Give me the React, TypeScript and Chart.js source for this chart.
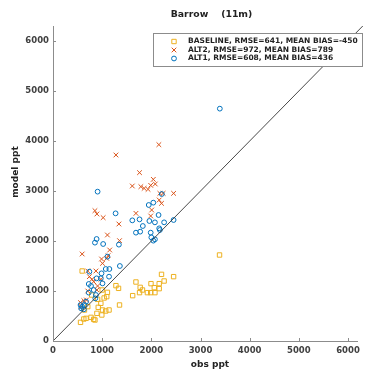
import React, { useEffect, useRef } from "react";
import { Chart, registerables } from "chart.js";

Chart.register(...registerables);

const titleText = "Barrow    (11m)";
const xLabel = "obs ppt";
const yLabel = "model ppt";
const tickValues = [0, 1000, 2000, 3000, 4000, 5000, 6000];
const legendLabels = [
  "BASELINE, RMSE=641, MEAN BIAS=-450",
  "ALT2, RMSE=972, MEAN BIAS=789",
  "ALT1, RMSE=608, MEAN BIAS=436",
];

const baselineObs = [3387, 2453, 2207, 2260, 2160, 1993, 2060, 1987, 2160, 2073, 1920, 1820, 1773, 1760, 1620, 1687, 1353, 1280, 1333, 1140, 1073, 993, 893, 920, 973, 1040, 1093, 1107, 1000, 827, 773, 853, 673, 627, 560, 593, 1007, 707, 640, 907, 787];
const baselineModel = [1720, 1287, 1333, 1200, 1147, 1147, 1067, 967, 1047, 967, 967, 1020, 1073, 967, 907, 1180, 720, 1107, 1053, 620, 600, 520, 553, 673, 753, 860, 887, 973, 1020, 433, 473, 420, 453, 440, 373, 1400, 620, 687, 620, 833, 920];

const alt2Obs = [2153, 1280, 1760, 2040, 2080, 1613, 1787, 1853, 1933, 1987, 2173, 2240, 2453, 2160, 2207, 2007, 1987, 1687, 853, 893, 1020, 1340, 1107, 1353, 1153, 593, 987, 1093, 1120, 1007, 873, 793, 827, 907, 973, 740, 707, 893, 560, 627, 680, 573, 707];
const alt2Model = [3927, 3720, 3367, 3233, 3140, 3100, 3087, 3053, 3033, 3113, 2953, 2953, 2953, 2820, 2753, 2620, 2500, 2553, 2607, 2540, 2467, 2340, 2120, 2007, 1820, 1740, 1640, 1653, 1707, 1553, 1400, 1233, 1187, 1100, 1233, 1287, 1400, 1020, 767, 807, 820, 687, 1000];

const alt1Obs = [3393, 907, 1273, 1613, 1760, 1947, 2040, 2147, 1960, 2073, 2260, 2453, 1827, 1687, 1773, 1987, 2000, 2160, 2173, 2073, 2040, 2213, 887, 853, 1020, 1340, 1107, 1073, 1147, 1360, 1140, 987, 740, 727, 773, 1007, 973, 887, 827, 727, 873, 860, 593, 640, 673, 573, 627, 560];
const alt1Model = [4647, 2987, 2553, 2413, 2433, 2720, 2767, 2520, 2400, 2373, 2373, 2420, 2300, 2167, 2187, 2167, 2073, 2253, 2220, 2033, 2007, 2940, 2040, 1967, 1940, 1927, 1687, 1440, 1440, 1500, 1287, 1353, 1387, 1140, 1100, 1153, 1253, 1253, 1020, 967, 920, 853, 687, 720, 787, 653, 633, 720];

const diagX = [0, 6300];
const diagY = [0, 6300];

const C_BASE = "#EDB120";
const C_ALT2 = "#D95319";
const C_ALT1 = "#0072BD";

const pts = (xs: number[], ys: number[]) => xs.map((x, i) => ({ x, y: ys[i] }));

const FONT = "'DejaVu Sans', sans-serif";

const overlay = {
  id: "overlay",
  afterDraw(chart: any) {
    const ctx = chart.ctx as CanvasRenderingContext2D;
    const xs = chart.scales.x;
    const ys = chart.scales.y;
    const area = chart.chartArea;
    ctx.save();
    // inward ticks
    ctx.strokeStyle = "#8c8c8c";
    ctx.lineWidth = 1;
    tickValues.forEach((v) => {
      const px = Math.round(xs.getPixelForValue(v)) + 0.5;
      ctx.beginPath();
      ctx.moveTo(px, area.bottom);
      ctx.lineTo(px, area.bottom - 3);
      ctx.stroke();
      const py = Math.round(ys.getPixelForValue(v)) + 0.5;
      ctx.beginPath();
      ctx.moveTo(area.left, py);
      ctx.lineTo(area.left + 3, py);
      ctx.stroke();
    });
    // title
    ctx.fillStyle = "#222";
    ctx.font = `bold 9.3px ${FONT}`;
    ctx.textAlign = "center";
    ctx.textBaseline = "middle";
    ctx.fillText(titleText, 211.5, 15);
    // axis labels
    ctx.font = `bold 9px ${FONT}`;
    ctx.fillText(xLabel, 210, 365);
    ctx.save();
    ctx.translate(16, 172);
    ctx.rotate(-Math.PI / 2);
    ctx.fillText(yLabel, 0, 0);
    ctx.restore();
    // legend
    const lx = 153.5, ly = 33.5, lw = 209, lh = 33;
    ctx.fillStyle = "#fff";
    ctx.fillRect(lx, ly, lw, lh);
    ctx.strokeStyle = "#8c8c8c";
    ctx.lineWidth = 1;
    ctx.strokeRect(lx, ly, lw, lh);
    const rows = [41.5, 50, 58.5];
    const colors = [C_BASE, C_ALT2, C_ALT1];
    ctx.font = `bold 7.5px ${FONT}`;
    ctx.textAlign = "left";
    rows.forEach((ry, i) => {
      const mx = 174;
      ctx.strokeStyle = colors[i];
      ctx.lineWidth = 1;
      ctx.beginPath();
      if (i === 0) {
        ctx.rect(mx - 2.2, ry - 2.2, 4.4, 4.4);
      } else if (i === 1) {
        ctx.moveTo(mx - 2.3, ry - 2.3);
        ctx.lineTo(mx + 2.3, ry + 2.3);
        ctx.moveTo(mx + 2.3, ry - 2.3);
        ctx.lineTo(mx - 2.3, ry + 2.3);
      } else {
        ctx.arc(mx, ry, 2.4, 0, Math.PI * 2);
      }
      ctx.stroke();
      ctx.fillStyle = "#222";
      ctx.fillText(legendLabels[i], 188, ry);
    });
    ctx.restore();
  },
};

export default function App() {
  const ref = useRef<HTMLCanvasElement | null>(null);
  useEffect(() => {
    if (!ref.current) return;
    const tickFont = { family: FONT, size: 8.5, weight: "bold" as const };
    const chart = new Chart(ref.current, {
      type: "scatter",
      data: {
        datasets: [
          {
            label: "diag",
            data: pts(diagX, diagY),
            showLine: true,
            borderColor: "#333",
            borderWidth: 0.9,
            pointRadius: 0,
            order: 0,
            clip: false as any,
          },
          {
            label: "BASELINE",
            data: pts(baselineObs, baselineModel),
            pointStyle: "rect",
            pointRadius: 3.1,
            borderColor: C_BASE,
            backgroundColor: "rgba(0,0,0,0)",
            pointBorderWidth: 1,
            order: 3,
          },
          {
            label: "ALT2",
            data: pts(alt2Obs, alt2Model),
            pointStyle: "crossRot",
            pointRadius: 3.3,
            borderColor: C_ALT2,
            backgroundColor: "rgba(0,0,0,0)",
            pointBorderWidth: 1,
            order: 2,
          },
          {
            label: "ALT1",
            data: pts(alt1Obs, alt1Model),
            pointStyle: "circle",
            pointRadius: 2.4,
            borderColor: C_ALT1,
            backgroundColor: "rgba(0,0,0,0)",
            pointBorderWidth: 1,
            order: 1,
          },
        ],
      },
      options: {
        responsive: false,
        animation: false,
        devicePixelRatio: 1,
        layout: { padding: { top: 26, right: 3, left: 0, bottom: 0 } },
        plugins: {
          legend: { display: false },
          tooltip: { enabled: false },
          title: { display: false },
        },
        scales: {
          x: {
            type: "linear",
            min: 0,
            max: 6200,
            afterBuildTicks: (s: any) => {
              s.ticks = tickValues.map((v) => ({ value: v }));
            },
            afterFit: (s: any) => {
              s.height = 38;
            },
            ticks: {
              font: tickFont,
              color: "#404040",
              padding: 5,
              maxRotation: 0,
              autoSkip: false,
              callback: (v: any) => String(v),
            },
            grid: { display: false, drawTicks: false },
            border: { display: true, color: "#8c8c8c", width: 1 },
          },
          y: {
            type: "linear",
            min: 0,
            max: 6300,
            afterBuildTicks: (s: any) => {
              s.ticks = tickValues.map((v) => ({ value: v }));
            },
            afterFit: (s: any) => {
              s.width = 53;
            },
            ticks: {
              font: tickFont,
              color: "#404040",
              padding: 4,
              autoSkip: false,
              callback: (v: any) => String(v),
            },
            grid: { display: false, drawTicks: false },
            border: { display: true, color: "#8c8c8c", width: 1 },
          },
        },
      },
      plugins: [overlay],
    });
    return () => chart.destroy();
  }, []);
  return (
    <div style={{ position: "absolute", left: 0, top: 0, width: 365, height: 379, background: "#fff" }}>
      <canvas ref={ref} width={365} height={379} style={{ width: 365, height: 379, display: "block" }} />
    </div>
  );
}
